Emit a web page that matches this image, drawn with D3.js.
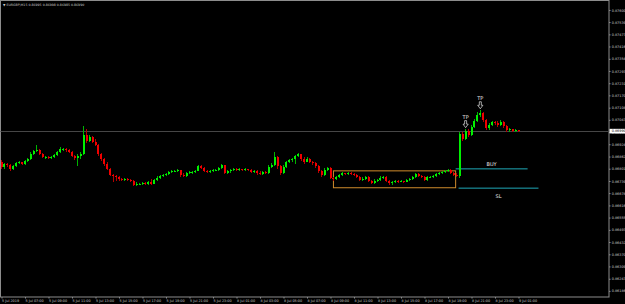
<!DOCTYPE html>
<html>
<head>
<meta charset="utf-8">
<script src="https://cdn.jsdelivr.net/npm/d3@7"></script>
<style>
  html, body { margin: 0; padding: 0; background: #000; }
  svg { display: block; }
  text { font-family: "DejaVu Sans", sans-serif; }
</style>
</head>
<body>
<svg id="chart" width="625" height="304"></svg>
<script>
// chart header
const symbolTitle = "EURGBP,M15  0.86995 0.86998 0.86985 0.86990";

// M15 bars (open = previous close)
const firstOpen = 0.86835;
const closes = [
  0.86810, 0.86825, 0.86820, 0.86800, 0.86815, 0.86830, 0.86835, 0.86825, 0.86840, 0.86850,
  0.86875, 0.86890, 0.86895, 0.86875, 0.86860, 0.86860, 0.86855, 0.86860, 0.86870, 0.86885,
  0.86900, 0.86900, 0.86895, 0.86885, 0.86865, 0.86855, 0.86865, 0.86875, 0.86970, 0.86940,
  0.86960, 0.86935, 0.86920, 0.86875, 0.86850, 0.86825, 0.86800, 0.86770, 0.86765, 0.86760,
  0.86750, 0.86745, 0.86750, 0.86745, 0.86740, 0.86720, 0.86725, 0.86725, 0.86730, 0.86725,
  0.86735, 0.86725, 0.86745, 0.86755, 0.86765, 0.86770, 0.86775, 0.86785, 0.86790, 0.86790,
  0.86795, 0.86770, 0.86765, 0.86780, 0.86785, 0.86785, 0.86790, 0.86815, 0.86805, 0.86790,
  0.86785, 0.86790, 0.86795, 0.86795, 0.86805, 0.86820, 0.86780, 0.86790, 0.86795, 0.86800,
  0.86795, 0.86800, 0.86795, 0.86800, 0.86795, 0.86785, 0.86790, 0.86780, 0.86775, 0.86785,
  0.86780, 0.86810, 0.86820, 0.86860, 0.86815, 0.86780, 0.86810, 0.86835, 0.86845, 0.86850,
  0.86865, 0.86875, 0.86850, 0.86835, 0.86850, 0.86835, 0.86830, 0.86815, 0.86790, 0.86770,
  0.86795, 0.86805, 0.86755, 0.86750, 0.86760, 0.86770, 0.86780, 0.86775, 0.86780, 0.86775,
  0.86770, 0.86760, 0.86745, 0.86750, 0.86760, 0.86740, 0.86730, 0.86740, 0.86745, 0.86755,
  0.86760, 0.86740, 0.86730, 0.86735, 0.86740, 0.86735, 0.86740, 0.86735, 0.86745, 0.86750,
  0.86760, 0.86775, 0.86765, 0.86760, 0.86745, 0.86760, 0.86760, 0.86765, 0.86775, 0.86780,
  0.86785, 0.86790, 0.86795, 0.86780, 0.86770, 0.86765, 0.86975, 0.86950, 0.86990, 0.86970,
  0.87010, 0.87040, 0.87070, 0.87080, 0.87045, 0.87005, 0.87020, 0.87035, 0.87030, 0.87020,
  0.87035, 0.87015, 0.86995, 0.87000, 0.86990, 0.86995, 0.86990
];
const highs = [
  0.86845, 0.86830, 0.86830, 0.86825, 0.86820, 0.86835, 0.86840, 0.86835, 0.86845, 0.86855,
  0.86885, 0.86895, 0.86920, 0.86900, 0.86880, 0.86865, 0.86865, 0.86865, 0.86875, 0.86890,
  0.86910, 0.86905, 0.86905, 0.86900, 0.86890, 0.86870, 0.86875, 0.86885, 0.87015, 0.87000,
  0.86970, 0.86965, 0.86950, 0.86925, 0.86880, 0.86855, 0.86835, 0.86805, 0.86775, 0.86770,
  0.86765, 0.86755, 0.86755, 0.86755, 0.86750, 0.86745, 0.86735, 0.86730, 0.86735, 0.86735,
  0.86740, 0.86750, 0.86750, 0.86765, 0.86770, 0.86775, 0.86780, 0.86790, 0.86795, 0.86795,
  0.86800, 0.86795, 0.86780, 0.86785, 0.86790, 0.86790, 0.86795, 0.86820, 0.86820, 0.86810,
  0.86795, 0.86795, 0.86800, 0.86800, 0.86810, 0.86825, 0.86820, 0.86795, 0.86800, 0.86805,
  0.86805, 0.86805, 0.86800, 0.86805, 0.86800, 0.86800, 0.86795, 0.86795, 0.86790, 0.86790,
  0.86790, 0.86820, 0.86830, 0.86885, 0.86865, 0.86820, 0.86820, 0.86840, 0.86850, 0.86855,
  0.86870, 0.86880, 0.86875, 0.86860, 0.86860, 0.86855, 0.86840, 0.86835, 0.86820, 0.86795,
  0.86805, 0.86810, 0.86810, 0.86760, 0.86765, 0.86775, 0.86785, 0.86780, 0.86785, 0.86785,
  0.86780, 0.86775, 0.86765, 0.86760, 0.86765, 0.86765, 0.86745, 0.86750, 0.86750, 0.86765,
  0.86765, 0.86765, 0.86745, 0.86740, 0.86745, 0.86745, 0.86745, 0.86740, 0.86750, 0.86755,
  0.86765, 0.86780, 0.86780, 0.86770, 0.86765, 0.86765, 0.86765, 0.86770, 0.86780, 0.86785,
  0.86790, 0.86795, 0.86800, 0.86800, 0.86785, 0.86780, 0.86985, 0.86985, 0.87000, 0.87000,
  0.87020, 0.87050, 0.87085, 0.87095, 0.87085, 0.87050, 0.87030, 0.87040, 0.87040, 0.87040,
  0.87045, 0.87040, 0.87020, 0.87005, 0.87000, 0.87000, 0.86995
];
const lows = [
  0.86800, 0.86800, 0.86810, 0.86790, 0.86795, 0.86810, 0.86825, 0.86820, 0.86820, 0.86835,
  0.86845, 0.86870, 0.86885, 0.86870, 0.86855, 0.86850, 0.86850, 0.86850, 0.86855, 0.86865,
  0.86880, 0.86890, 0.86885, 0.86880, 0.86860, 0.86845, 0.86815, 0.86850, 0.86870, 0.86930,
  0.86935, 0.86930, 0.86915, 0.86865, 0.86840, 0.86815, 0.86795, 0.86765, 0.86735, 0.86740,
  0.86740, 0.86740, 0.86740, 0.86740, 0.86735, 0.86715, 0.86715, 0.86720, 0.86720, 0.86720,
  0.86720, 0.86720, 0.86725, 0.86740, 0.86750, 0.86760, 0.86765, 0.86770, 0.86780, 0.86785,
  0.86785, 0.86760, 0.86760, 0.86760, 0.86775, 0.86775, 0.86780, 0.86790, 0.86800, 0.86785,
  0.86780, 0.86780, 0.86785, 0.86790, 0.86790, 0.86800, 0.86775, 0.86775, 0.86780, 0.86790,
  0.86790, 0.86790, 0.86790, 0.86790, 0.86790, 0.86780, 0.86780, 0.86770, 0.86770, 0.86770,
  0.86775, 0.86775, 0.86805, 0.86815, 0.86800, 0.86770, 0.86775, 0.86805, 0.86830, 0.86835,
  0.86825, 0.86860, 0.86840, 0.86825, 0.86835, 0.86830, 0.86820, 0.86805, 0.86780, 0.86760,
  0.86765, 0.86790, 0.86750, 0.86740, 0.86745, 0.86755, 0.86765, 0.86770, 0.86770, 0.86770,
  0.86765, 0.86755, 0.86740, 0.86740, 0.86745, 0.86735, 0.86725, 0.86725, 0.86735, 0.86740,
  0.86750, 0.86735, 0.86720, 0.86720, 0.86730, 0.86730, 0.86735, 0.86730, 0.86735, 0.86740,
  0.86745, 0.86755, 0.86760, 0.86755, 0.86740, 0.86740, 0.86755, 0.86755, 0.86760, 0.86770,
  0.86775, 0.86780, 0.86785, 0.86775, 0.86765, 0.86760, 0.86755, 0.86940, 0.86945, 0.86960,
  0.86965, 0.87005, 0.87035, 0.87060, 0.87035, 0.86995, 0.86995, 0.87015, 0.87020, 0.87010,
  0.87015, 0.87005, 0.86985, 0.86985, 0.86985, 0.86985, 0.86985
];

// price scale labels
const priceTicks = [
  0.87600, 0.87539, 0.87477, 0.87416, 0.87354, 0.87293, 0.87231, 0.87170,
  0.87108, 0.87047, 0.86985, 0.86924, 0.86862, 0.86801, 0.86739, 0.86678,
  0.86616, 0.86555, 0.86493, 0.86432, 0.86370, 0.86309, 0.86247, 0.86186
];

// time scale labels, one every 8 bars
const dateTickBars = [0, 8, 16, 24, 32, 40, 48, 56, 64, 72, 80, 88, 96, 104, 112, 120, 128, 136, 144, 152, 160, 168, 176];
const dateLabels = [
  "5 Jul 2019", "5 Jul 07:00", "5 Jul 09:00", "5 Jul 11:00", "5 Jul 13:00", "5 Jul 15:00",
  "5 Jul 17:00", "5 Jul 19:00", "5 Jul 21:00", "5 Jul 23:00", "8 Jul 01:00", "8 Jul 03:00",
  "8 Jul 05:00", "8 Jul 07:00", "8 Jul 09:00", "8 Jul 11:00", "8 Jul 13:00", "8 Jul 15:00",
  "8 Jul 17:00", "8 Jul 19:00", "8 Jul 21:00", "8 Jul 23:00", "9 Jul 01:00"
];

// drawn objects: range box, entry / stop lines, take-profit marks
const boxBars = [113, 154.6];
const boxPrices = [0.86790, 0.86705];
const buyLine = [154.6, 179.1, 0.86800];
const slLine = [155.6, 182.8, 0.86703];
const tpBars = [158, 163];

const W = 625, H = 304;
const plot = { left: 0.5, top: 0.5, right: 609, bottom: 297 };

const svg = d3.select('#chart');

const x = d3.scaleLinear().domain([0, 176]).range([1.5, 518.5]);
const y = d3.scaleLinear().domain([0.8614, 0.8765]).range([300, 0]);

const bars = closes.map((c, i) => ({
  i: i,
  open: i === 0 ? firstOpen : closes[i - 1],
  close: c,
  high: highs[i],
  low: lows[i]
}));

// frame
svg.append('rect')
  .attr('x', plot.left).attr('y', plot.top)
  .attr('width', plot.right - plot.left).attr('height', plot.bottom - plot.top)
  .attr('fill', 'none').attr('stroke', '#8c8c8c').attr('stroke-width', 1);

// title
svg.append('text')
  .attr('x', 3).attr('y', 6)
  .attr('fill', '#c8c8c8').style('font-size', '3.2px')
  .text('\u25BC ' + symbolTitle);

// current price line
const last = closes[closes.length - 1];
svg.append('line')
  .attr('x1', plot.left).attr('x2', plot.right)
  .attr('y1', Math.round(y(last)) + 0.5).attr('y2', Math.round(y(last)) + 0.5)
  .attr('stroke', '#464646').attr('stroke-width', 1);

// range box
svg.append('rect')
  .attr('x', x(boxBars[0])).attr('y', y(boxPrices[0]))
  .attr('width', x(boxBars[1]) - x(boxBars[0]))
  .attr('height', y(boxPrices[1]) - y(boxPrices[0]))
  .attr('fill', 'none').attr('stroke', '#d08c2c').attr('stroke-width', 1);

// level lines
[[buyLine, 'BUY', -2.5], [slLine, 'SL', 9.5]].forEach(([ln, label, dy]) => {
  svg.append('line')
    .attr('x1', x(ln[0])).attr('x2', x(ln[1]))
    .attr('y1', y(ln[2])).attr('y2', y(ln[2]))
    .attr('stroke', '#1fa9b8').attr('stroke-width', 1);
  svg.append('text')
    .attr('x', (x(ln[0]) + x(ln[1])) / 2).attr('y', y(ln[2]) + dy)
    .attr('text-anchor', 'middle')
    .attr('fill', '#e6e6e6').style('font-size', '5px')
    .text(label);
});

// candles
const g = svg.append('g').attr('shape-rendering', 'crispEdges');
g.selectAll('line.wick')
  .data(bars)
  .join('line')
  .attr('class', 'wick')
  .attr('x1', d => x(d.i)).attr('x2', d => x(d.i))
  .attr('y1', d => y(d.high)).attr('y2', d => y(d.low))
  .attr('stroke', d => d.close >= d.open ? '#00b400' : '#b40000')
  .attr('stroke-width', 1);

g.selectAll('rect.body')
  .data(bars)
  .join('rect')
  .attr('class', 'body')
  .attr('x', d => x(d.i) - 1)
  .attr('width', 2)
  .attr('y', d => y(Math.max(d.open, d.close)))
  .attr('height', d => Math.max(1, Math.abs(y(d.open) - y(d.close))))
  .attr('fill', d => d.close >= d.open ? '#00f000' : '#f00000');

// take-profit marks
tpBars.forEach(b => {
  const tip = y(highs[b]) - 1.5;
  const cx = x(b);
  svg.append('path')
    .attr('d', `M${cx - 1},${tip - 7} h2 v3.5 h1.6 L${cx},${tip} L${cx - 2.6},${tip - 3.5} h1.6 Z`)
    .attr('fill', 'none').attr('stroke', '#e6e6e6').attr('stroke-width', 0.7);
  svg.append('text')
    .attr('x', cx).attr('y', tip - 9)
    .attr('text-anchor', 'middle')
    .attr('fill', '#e6e6e6').style('font-size', '5px')
    .text('TP');
});

// price axis
const yAxis = svg.append('g')
  .attr('transform', `translate(${plot.right},0)`)
  .call(d3.axisRight(y).tickValues(priceTicks).tickSize(1.5).tickPadding(1.2)
    .tickFormat(d3.format('.5f')));
yAxis.select('.domain').remove();
yAxis.selectAll('line').attr('stroke', '#8c8c8c');
yAxis.selectAll('text').attr('fill', '#c8c8c8').style('font-size', '3.4px')
  .style('font-family', '"DejaVu Sans", sans-serif');

// current price tag
const tagY = y(last);
svg.append('rect')
  .attr('x', plot.right + 0.5).attr('y', tagY - 2.3)
  .attr('width', 15.5).attr('height', 4.6)
  .attr('fill', '#ffffff');
svg.append('text')
  .attr('x', plot.right + 2.7).attr('y', tagY)
  .attr('dy', '0.34em')
  .attr('fill', '#000').style('font-size', '3.4px')
  .text(d3.format('.5f')(last));

// time axis
const xAxis = svg.append('g')
  .attr('transform', `translate(0,${plot.bottom})`)
  .call(d3.axisBottom(x).tickValues(dateTickBars).tickSize(1.5).tickPadding(0.8)
    .tickFormat((d, i) => dateLabels[i]));
xAxis.select('.domain').remove();
xAxis.selectAll('line').attr('stroke', '#8c8c8c');
xAxis.selectAll('text')
  .attr('text-anchor', 'start')
  .attr('fill', '#c8c8c8').style('font-size', '3.4px')
  .style('font-family', '"DejaVu Sans", sans-serif');
</script>
</body>
</html>
